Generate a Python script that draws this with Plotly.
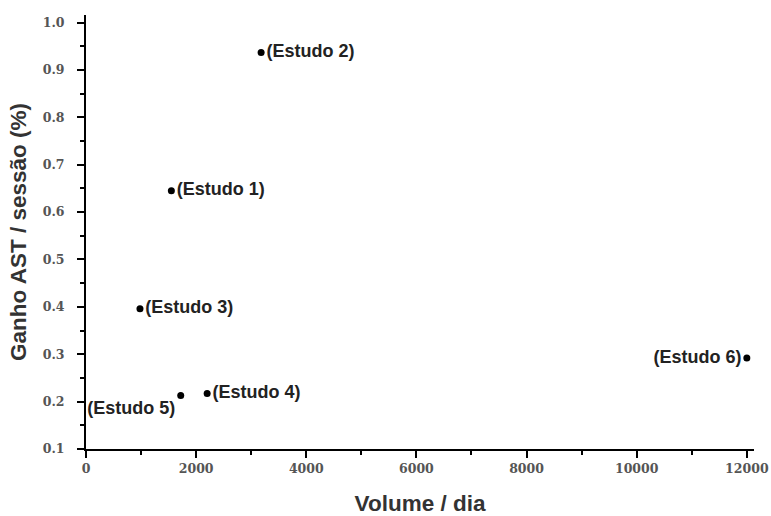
import plotly.graph_objects as go

studies = ["(Estudo 1)", "(Estudo 2)", "(Estudo 3)", "(Estudo 4)", "(Estudo 5)", "(Estudo 6)"]
volume = [1550, 3180, 980, 2200, 1720, 12000]
ganho = [0.645, 0.937, 0.396, 0.217, 0.213, 0.292]
label_pos = ["middle right", "middle right", "middle right", "middle right", "bottom left", "middle left"]

x_ticks = [0, 2000, 4000, 6000, 8000, 10000, 12000]
y_ticks = [0.1, 0.2, 0.3, 0.4, 0.5, 0.6, 0.7, 0.8, 0.9, 1.0]

fig = go.Figure()
fig.add_trace(go.Scatter(
    x=volume, y=ganho, mode="markers+text",
    text=studies, textposition=label_pos,
    marker=dict(color="black", size=7),
    textfont=dict(family="Arial", size=18, color="#222222", weight="bold"),
    cliponaxis=False, showlegend=False,
))

tickfont = dict(family="DejaVu Serif", size=12.5, color="#555555", weight="bold")
titlefont = dict(family="Arial", size=22.5, color="#333333", weight="bold")
fig.update_layout(
    width=771, height=516,
    margin=dict(l=86, r=17, t=15, b=67, autoexpand=False),
    paper_bgcolor="white", plot_bgcolor="white",
    xaxis=dict(
        range=[0, 12130], tickvals=x_ticks, ticktext=[str(v) for v in x_ticks],
        showline=True, linecolor="black", linewidth=2, showgrid=False, zeroline=False,
        ticks="outside", ticklen=7, tickwidth=2, tickcolor="black",
        minor=dict(ticks="outside", ticklen=4, tickwidth=1.5, tickcolor="black", dtick=1000, tick0=0),
        tickfont=tickfont, automargin=False, ticklabeloverflow="allow",
        title=dict(text="Volume / dia", font=titlefont, standoff=20),
    ),
    yaxis=dict(
        range=[0.1, 1.016], tickvals=y_ticks, ticktext=["%.1f" % v for v in y_ticks],
        showline=True, linecolor="black", linewidth=2, showgrid=False, zeroline=False,
        ticks="outside", ticklen=7, tickwidth=2, tickcolor="black",
        minor=dict(ticks="outside", ticklen=4, tickwidth=1.5, tickcolor="black", dtick=0.05, tick0=0.1),
        tickfont=tickfont, ticklabelstandoff=10, automargin=False, ticklabeloverflow="allow",
        title=dict(text="Ganho AST / sessão (%)", font=titlefont, standoff=10),
    ),
)

fig.write_html("out.html", config={"displayModeBar": False},
               post_script="document.body.style.margin='0';")
